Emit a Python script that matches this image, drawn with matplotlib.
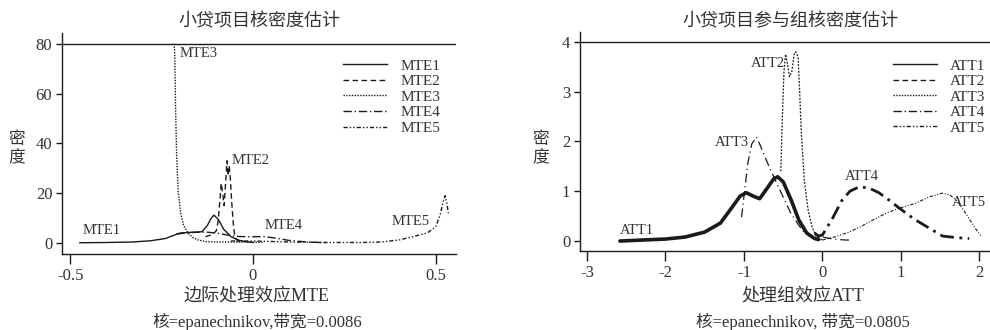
import matplotlib
matplotlib.use("Agg")
import matplotlib.pyplot as plt
from matplotlib.lines import Line2D

plt.rcParams['font.family'] = ['Liberation Serif', 'Noto Sans CJK SC', 'DejaVu Sans']
CJK = ['Liberation Serif', 'Noto Sans CJK SC']
INK = '#1a1a1a'
TXT = '#333333'

# ── Left panel: MTE kernel densities ─────────────────────────
mte1_x = [-0.474, -0.4, -0.33, -0.28, -0.24, -0.2, -0.17, -0.14, -0.125, -0.115,
          -0.107, -0.095, -0.08, -0.06, -0.04, -0.02, 0.0]
mte1_y = [0.1, 0.2, 0.4, 0.9, 1.8, 4.0, 4.3, 4.5, 7.0, 9.8,
          11.2, 9.5, 5.5, 2.5, 1.2, 0.5, 0.2]
mte2_x = [-0.13, -0.11, -0.1, -0.095, -0.09, -0.087, -0.083, -0.079, -0.075, -0.071,
          -0.068, -0.065, -0.062, -0.058, -0.054, -0.05, -0.046, -0.04, -0.03]
mte2_y = [2.5, 3.5, 5.0, 9.0, 18.0, 24.0, 20.0, 15.0, 24.0, 33.0,
          27.0, 31.0, 26.0, 16.0, 8.0, 3.0, 1.5, 0.8, 0.3]
mte3_x = [-0.216, -0.214, -0.212, -0.209, -0.205, -0.198, -0.19, -0.178, -0.165,
          -0.15, -0.126, -0.1, -0.05, 0.0, 0.03]
mte3_y = [80, 75, 55, 35, 21, 12, 7, 4, 2.2, 1.2, 0.5, 0.4, 0.4, 0.3, 0.3]
mte4_x = [-0.21, -0.17, -0.13, -0.1, -0.07, -0.04, 0.0, 0.03, 0.06, 0.1, 0.15, 0.2]
mte4_y = [3.6, 4.2, 4.4, 4.0, 3.2, 2.6, 2.5, 2.6, 2.0, 1.0, 0.4, 0.1]
mte5_x = [-0.06, 0.0, 0.1, 0.2, 0.3, 0.35, 0.4, 0.44, 0.477, 0.5, 0.512, 0.52,
          0.526, 0.531, 0.535]
mte5_y = [0.8, 0.8, 0.4, 0.2, 0.2, 0.4, 1.2, 2.6, 4.0, 6.4, 11, 16, 19, 16, 12]

mte_names = ["MTE1", "MTE2", "MTE3", "MTE4", "MTE5"]
mte_lab_x = [-0.466, -0.058, -0.2, 0.033, 0.485]
mte_lab_y = [5.2, 33, 76, 7.2, 8.8]
mte_lab_ha = ["left", "left", "left", "left", "right"]

# ── Right panel: ATT kernel densities ────────────────────────
att1_x = [-2.58, -2.3, -2.0, -1.75, -1.5, -1.3, -1.15, -1.05, -0.97, -0.88, -0.8,
          -0.7, -0.62, -0.57, -0.5, -0.4, -0.3, -0.2, -0.1, -0.05]
att1_y = [0.0, 0.02, 0.04, 0.08, 0.18, 0.36, 0.68, 0.9, 0.97, 0.9, 0.85,
          1.07, 1.25, 1.29, 1.19, 0.83, 0.42, 0.16, 0.05, 0.03]
att2_x = [-0.53, -0.51, -0.49, -0.47, -0.45, -0.42, -0.39, -0.36, -0.34, -0.31,
          -0.29, -0.27, -0.23, -0.18, -0.13, -0.08, -0.04, 0.0]
att2_y = [1.4, 2.5, 3.4, 3.75, 3.6, 3.3, 3.4, 3.75, 3.8, 3.7,
          3.0, 2.2, 1.2, 0.6, 0.28, 0.1, 0.05, 0.02]
att3_x = [-1.03, -0.95, -0.9, -0.84, -0.8, -0.7, -0.55, -0.4, -0.25, -0.1,
          0.0, 0.1, 0.2, 0.3, 0.37]
att3_y = [0.48, 1.57, 1.95, 2.09, 1.95, 1.57, 1.05, 0.55, 0.2, 0.05,
          0.08, 0.05, 0.03, 0.02, 0.02]
att4_x = [-0.1, -0.05, 0.0, 0.13, 0.25, 0.35, 0.47, 0.6, 0.72, 0.85, 0.98,
          1.1, 1.19, 1.36, 1.53, 1.7, 1.87]
att4_y = [0.16, 0.1, 0.12, 0.46, 0.82, 1.0, 1.09, 1.06, 0.97, 0.82, 0.66,
          0.52, 0.42, 0.26, 0.1, 0.07, 0.05]
att5_x = [0.0, 0.15, 0.34, 0.5, 0.64, 0.8, 0.98, 1.19, 1.35, 1.52, 1.62,
          1.72, 1.84, 1.95, 2.03]
att5_y = [0.02, 0.08, 0.18, 0.3, 0.42, 0.55, 0.66, 0.76, 0.88, 0.96, 0.93,
          0.8, 0.52, 0.25, 0.08]

att_names = ["ATT1", "ATT2", "ATT3", "ATT4", "ATT5"]
att_lab_x = [-2.58, -0.48, -0.93, 0.28, 2.08]
att_lab_y = [0.22, 3.56, 1.97, 1.29, 0.78]
att_lab_ha = ["left", "right", "right", "left", "right"]

# legend styles (same for both panels)
LEG_STYLES = ["-", (0, (4, 2.5)), (0, (1, 1)), (0, (6, 2, 1, 2)), (0, (3, 1.5, 1, 1.5, 1, 1.5))]


def stata_axes(ax):
    ax.spines["top"].set_visible(False)
    ax.spines["right"].set_visible(False)
    for s in ("left", "bottom"):
        ax.spines[s].set_color(INK)
        ax.spines[s].set_linewidth(1.0)
    ax.tick_params(axis="y", length=4, width=1, pad=3, labelsize=12, colors=INK, labelcolor=TXT)
    ax.tick_params(axis="x", length=7, width=1, pad=3, labelsize=12, colors=INK, labelcolor=TXT)


def add_legend(ax, names, anchor):
    handles = [Line2D([], [], color=INK, lw=1.0, ls=ls) for ls in LEG_STYLES]
    leg = ax.legend(handles, names, loc="upper left", bbox_to_anchor=anchor,
                    frameon=False, fontsize=11, handlelength=2.9, handletextpad=0.85,
                    labelspacing=0.12, borderpad=0, borderaxespad=0)
    for t in leg.get_texts():
        t.set_color(TXT)


def stacked_ylabel(x_px):
    # Stata-style vertical label: one character per line, upright
    fig.text(x_px / 990, 1 - 140 / 330, "密", ha="center", va="center",
             fontsize=12, color=TXT, family=CJK, rotation=0)
    fig.text(x_px / 990, 1 - 158 / 330, "度", ha="center", va="center",
             fontsize=12, color=TXT, family=CJK, rotation=0)


fig = plt.figure(figsize=(9.9, 3.3), dpi=100)

# ── Left ─────────────────────────────────────────────────────
ax1 = fig.add_axes([0.0626, 0.2303, 0.398, 0.6697])
stata_axes(ax1)
ax1.axhline(80, color=INK, lw=1.0)
ax1.plot(mte1_x, mte1_y, color=INK, lw=1.0, ls="-")
ax1.plot(mte2_x, mte2_y, color=INK, lw=1.0, ls=(0, (4, 2.5)))
ax1.plot(mte3_x, mte3_y, color=INK, lw=1.0, ls=(0, (1, 1)))
ax1.plot(mte4_x, mte4_y, color=INK, lw=1.0, ls=(0, (6, 2, 1, 2)))
ax1.plot(mte5_x, mte5_y, color=INK, lw=1.0, ls=(0, (3, 1.5, 1, 1.5, 1, 1.5)))
for name, x, y, ha in zip(mte_names, mte_lab_x, mte_lab_y, mte_lab_ha):
    ax1.text(x, y, name, ha=ha, va="center", fontsize=10.5, color=TXT)
ax1.set_xlim(-0.523, 0.556)
ax1.set_ylim(-4.42, 84.3)
ax1.set_xticks([-0.5, 0, 0.5])
ax1.set_xticklabels(["-0.5", "0", "0.5"])
ax1.set_yticks([0, 20, 40, 60, 80])
add_legend(ax1, mte_names, (0.713, 0.882))

# ── Right ────────────────────────────────────────────────────
ax2 = fig.add_axes([0.5859, 0.2394, 0.4141, 0.664])
stata_axes(ax2)
ax2.axhline(4, color=INK, lw=1.0)
ax2.plot(att1_x, att1_y, color=INK, lw=2.6, ls="-", solid_capstyle="round")
ax2.plot(att2_x, att2_y, color=INK, lw=0.9, ls=(0, (1.5, 1.2)))
ax2.plot(att3_x, att3_y, color=INK, lw=0.9, ls=(0, (7, 3, 1, 3)))
ax2.plot(att4_x, att4_y, color=INK, lw=2.0, ls=(0, (5, 2, 1, 2)))
ax2.plot(att5_x, att5_y, color=INK, lw=0.8, ls=(0, (3, 1.5, 1, 1.5, 1, 1.5)))
for name, x, y, ha in zip(att_names, att_lab_x, att_lab_y, att_lab_ha):
    ax2.text(x, y, name, ha=ha, va="center", fontsize=10.5, color=TXT)
ax2.set_xlim(-3.088, 2.135)
ax2.set_ylim(-0.2, 4.2)
ax2.set_xticks([-3, -2, -1, 0, 1, 2])
ax2.set_xticklabels(["-3", "-2", "-1", "0", "1", "2"])
ax2.set_yticks([0, 1, 2, 3, 4])
add_legend(ax2, att_names, (0.763, 0.877))

# ── Titles, axis labels, notes ───────────────────────────────
fig.text(259 / 990, 1 - 22 / 330, "小贷项目核密度估计", ha="center", va="center",
         fontsize=13, color=TXT, family=CJK)
fig.text(790 / 990, 1 - 22 / 330, "小贷项目参与组核密度估计", ha="center", va="center",
         fontsize=13, color=TXT, family=CJK)

stacked_ylabel(17)
stacked_ylabel(541)

fig.text(257 / 990, 1 - 297 / 330, "边际处理效应MTE", ha="center", va="center",
         fontsize=13, color=TXT, family=CJK)
fig.text(257 / 990, 1 - 322 / 330, "核=epanechnikov,带宽=0.0086", ha="center", va="center",
         fontsize=12, color=TXT, family=CJK)
fig.text(803 / 990, 1 - 297 / 330, "处理组效应ATT", ha="center", va="center",
         fontsize=13, color=TXT, family=CJK)
fig.text(803 / 990, 1 - 322 / 330, "核=epanechnikov, 带宽=0.0805", ha="center", va="center",
         fontsize=12, color=TXT, family=CJK)

fig.savefig("out.png", dpi=100)
